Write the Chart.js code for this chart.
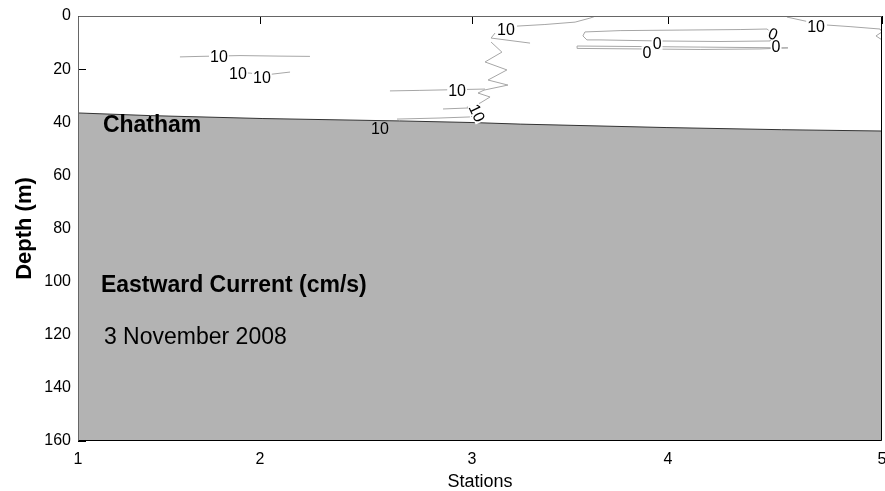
<!DOCTYPE html>
<html>
<head>
<meta charset="utf-8">
<script src="https://cdn.jsdelivr.net/npm/chart.js@4.4.0/dist/chart.umd.min.js"></script>
<style>
  html, body { margin: 0; padding: 0; background: #fff; }
  #wrap { width: 885px; height: 491px; }
</style>
</head>
<body>
<div id="wrap"><canvas id="chart"></canvas></div>
<script>
// Station positions along the section (km) and the labels shown for them
const stationKm = [0, 9.05, 19.6, 29.35, 40];
const stationLabels = ['1', '2', '3', '4', '5'];
const depthTicks = [0, 20, 40, 60, 80, 100, 120, 140, 160];

// Bottom depth along the section
const bottomKm = [0, 3.6, 9.2, 16, 19.6, 22, 29.3, 35, 40];
const bottomDepth = [36.5, 37.5, 38.6, 39.5, 40.1, 40.7, 42, 42.8, 43.3];

// Contour lines, [km, depth]
const contour10West = [[5.07, 15.4], [6.07, 15.2], [8.06, 14.9], [10.05, 15.1], [11.54, 15.2]];
const contour10WestLow = [[7.56, 21.1], [8.56, 21.5], [9.30, 22.2], [10.55, 21.1]];
const contour10Top = [[21.84, 3.8], [23.23, 3.2], [24.73, 2.3], [25.47, 0.8], [25.77, 0]];
const contour10Spur = [[20.75, 6.4], [20.55, 8.3], [22.49, 10.2]];
const contour10Zigzag = [[20.55, 9.8], [21.09, 13.6], [20.25, 17.3], [21.34, 20.3], [20.40, 24.1],
  [21.39, 26.0], [20.20, 27.9], [19.90, 29.0], [20.50, 30.5], [20.00, 32.8], [19.35, 34.3],
  [19.85, 36.1], [19.55, 38.0]];
const contour10Mid = [[15.52, 28.2], [17.01, 28.0], [20.25, 27.5]];
const contour10Short = [[18.16, 35.0], [19.50, 34.6]];
const contour10Low = [[15.87, 38.8], [18.01, 38.4], [19.50, 38.0]];
const contour0Upper = [[25.22, 6.0], [26.97, 5.5], [29.95, 5.3], [32.94, 5.1], [34.28, 4.9], [34.58, 6.8],
  [34.43, 9.4], [31.94, 9.6], [28.96, 9.4], [25.97, 9.0], [25.32, 9.0], [25.12, 7.5], [25.22, 6.0]];
const contour0Lower = [[24.83, 11.3], [27.96, 11.5], [30.95, 11.7], [35.32, 12.0], [33.93, 12.4],
  [30.95, 12.6], [27.96, 12.4], [24.83, 12.2], [24.83, 11.3]];
const contour10East = [[35.27, 0.4], [36.42, 2.3]];
const contour10EastB = [[37.26, 3.4], [38.41, 4.0], [39.90, 4.9], [40, 6.0], [39.7, 7.5], [40, 9.0]];

const contourLines = [contour10West, contour10WestLow, contour10Top, contour10Spur, contour10Zigzag,
  contour10Mid, contour10Short, contour10Low, contour0Upper, contour0Lower, contour10East, contour10EastB];

// Contour labels: km, depth, text, angle (deg)
const contourLabels = [
  [7.01, 15.4, '10', 0],
  [7.96, 21.5, '10', 0],
  [9.15, 23.3, '10', 0],
  [21.29, 5.3, '10', 0],
  [18.86, 28.2, '10', 0],
  [19.85, 36.5, '10', 65],
  [15.02, 42.2, '10', 0],
  [34.58, 6.8, '0', 20],
  [28.31, 13.6, '0', 0],
  [28.81, 10.5, '0', 0],
  [34.73, 11.7, '0', 0],
  [36.72, 3.8, '10', 0]
];

// Text notes: km, depth of baseline, text, weight
const notes = [
  [1.24, 43.6, 'Chatham', 'bold'],
  [1.14, 103.8, 'Eastward Current (cm/s)', 'bold'],
  [1.29, 123.5, '3 November 2008', 'normal']
];

const FONT = "'Liberation Sans', Arial, Helvetica, sans-serif";

function bottomAt(km) {
    for (let i = 1; i < bottomKm.length; i++) {
        if (km <= bottomKm[i]) {
            const t = (km - bottomKm[i - 1]) / (bottomKm[i] - bottomKm[i - 1]);
            return bottomDepth[i - 1] + t * (bottomDepth[i] - bottomDepth[i - 1]);
        }
    }
    return bottomDepth[bottomDepth.length - 1];
}

const tickMarks = {
    id: 'tickMarks',
    beforeDatasetsDraw(chart) {
        const { ctx, chartArea: a, scales: { x, y } } = chart;
        ctx.save();
        ctx.strokeStyle = '#000';
        ctx.lineWidth = 1;
        ctx.beginPath();
        stationKm.forEach(v => {
            const px = Math.round(x.getPixelForValue(v)) + 0.5;
            ctx.moveTo(px, a.top);
            ctx.lineTo(px, a.top + 8);
        });
        depthTicks.forEach(v => {
            const py = Math.round(y.getPixelForValue(v)) + 0.5;
            ctx.moveTo(a.left, py);
            ctx.lineTo(a.left + 8, py);
        });
        ctx.stroke();
        ctx.restore();
    }
};

const overlay = {
    id: 'overlay',
    afterDatasetsDraw(chart) {
        const { ctx, chartArea: a, scales: { x, y } } = chart;
        ctx.save();

        // contour labels
        ctx.font = '16px ' + FONT;
        ctx.textAlign = 'center';
        ctx.textBaseline = 'middle';
        contourLabels.forEach(([km, d, txt, ang]) => {
            const px = x.getPixelForValue(km);
            const py = y.getPixelForValue(d);
            ctx.save();
            ctx.translate(px, py);
            ctx.rotate(ang * Math.PI / 180);
            if (d < bottomAt(km) - 1) {
                const w = ctx.measureText(txt).width;
                ctx.fillStyle = '#fff';
                ctx.fillRect(-w / 2 - 1, -6, w + 2, 12);
            }
            ctx.fillStyle = '#000';
            ctx.fillText(txt, 0, 1);
            ctx.restore();
        });

        // text notes
        ctx.textAlign = 'left';
        ctx.textBaseline = 'alphabetic';
        ctx.fillStyle = '#000';
        notes.forEach(([km, d, txt, weight]) => {
            ctx.font = weight + ' 23px ' + FONT;
            ctx.fillText(txt, x.getPixelForValue(km), y.getPixelForValue(d));
        });

        // axes box
        const l = Math.round(a.left) + 0.5, r = Math.round(a.right) - 0.5;
        const t = Math.round(a.top) + 0.5, b = Math.round(a.bottom) - 0.5;
        ctx.lineWidth = 1;
        ctx.strokeStyle = '#666';
        ctx.beginPath();
        ctx.moveTo(l, b);
        ctx.lineTo(l, t);
        ctx.lineTo(r, t);
        ctx.stroke();
        ctx.strokeStyle = '#000';
        ctx.beginPath();
        ctx.moveTo(r, t);
        ctx.lineTo(r, b);
        ctx.lineTo(l, b);
        ctx.stroke();
        ctx.restore();
    }
};

const datasets = contourLines.map(line => ({
    data: line.map(([km, d]) => ({ x: km, y: d })),
    showLine: true,
    borderColor: '#a6a6a6',
    borderWidth: 1,
    pointRadius: 0,
    tension: 0,
    fill: false,
    order: 0
}));

datasets.push({
    data: bottomKm.map((km, i) => ({ x: km, y: bottomDepth[i] })),
    showLine: true,
    borderColor: '#333',
    borderWidth: 1,
    backgroundColor: '#b3b3b3',
    pointRadius: 0,
    fill: { value: 160 },
    order: 10
});

new Chart(document.getElementById('chart'), {
    type: 'scatter',
    data: { datasets },
    options: {
        responsive: true,
        maintainAspectRatio: false,
        animation: false,
        layout: { padding: { top: 16, right: 3, left: 0, bottom: 0 } },
        plugins: {
            legend: { display: false },
            tooltip: { enabled: false }
        },
        scales: {
            x: {
                type: 'linear',
                min: 0,
                max: 40,
                grid: { display: false, drawTicks: false },
                border: { display: false },
                afterBuildTicks: s => { s.ticks = stationKm.map(v => ({ value: v })); },
                afterFit: s => { s.height = 50; s.paddingLeft = 0; s.paddingRight = 0; },
                ticks: {
                    autoSkip: false,
                    maxRotation: 0,
                    padding: 9,
                    color: '#000',
                    font: { family: FONT, size: 16 },
                    callback: v => stationLabels[stationKm.indexOf(v)]
                },
                title: {
                    display: true,
                    text: 'Stations',
                    color: '#000',
                    font: { family: FONT, size: 18 },
                    padding: { top: 0, bottom: -2 }
                }
            },
            y: {
                type: 'linear',
                reverse: true,
                min: 0,
                max: 160,
                grid: { display: false, drawTicks: false },
                border: { display: false },
                afterBuildTicks: s => { s.ticks = depthTicks.map(v => ({ value: v })); },
                afterFit: s => { s.width = 78; s.paddingTop = 0; s.paddingBottom = 0; },
                ticks: {
                    padding: 7,
                    color: '#000',
                    font: { family: FONT, size: 16 }
                },
                title: {
                    display: true,
                    text: 'Depth (m)',
                    color: '#000',
                    font: { family: FONT, size: 22, weight: 'bold' },
                    padding: { top: 12, bottom: 0 }
                }
            }
        }
    },
    plugins: [tickMarks, overlay]
});
</script>
</body>
</html>
